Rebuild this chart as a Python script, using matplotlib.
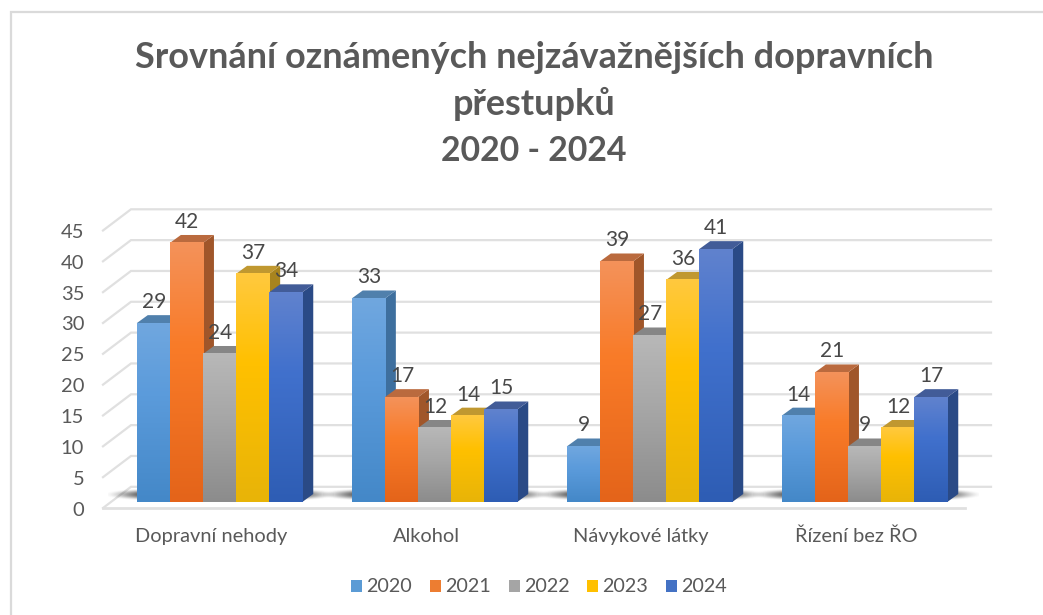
import numpy as np
import matplotlib
matplotlib.use("Agg")
import matplotlib.pyplot as plt
from matplotlib.colors import LinearSegmentedColormap
from matplotlib.lines import Line2D
from matplotlib.patches import Polygon, Rectangle
from matplotlib.transforms import Affine2D

categories = ["Dopravní nehody", "Alkohol", "Návykové látky", "Řízení bez ŘO"]
years = ["2020", "2021", "2022", "2023", "2024"]
values_2020 = [29, 33, 9, 14]
values_2021 = [42, 17, 39, 21]
values_2022 = [24, 12, 27, 9]
values_2023 = [37, 14, 36, 12]
values_2024 = [34, 15, 41, 17]
series = [values_2020, values_2021, values_2022, values_2023, values_2024]
y_ticks = [0, 5, 10, 15, 20, 25, 30, 35, 40, 45]

# top, middle, bottom of the front face
grads = [
    ["#70A7DF", "#5B9BDB", "#4488C8"],
    ["#F4925A", "#F97B28", "#E4641A"],
    ["#B8B8B8", "#A8A8A8", "#8C8C8C"],
    ["#FFC93E", "#FFC000", "#E8B408"],
    ["#6082CE", "#4070CC", "#2E5DB4"],
]
side_cols = ["#3E6F9E", "#A0562A", "#6E6E6E", "#A8841E", "#2A4A86"]
top_cols = ["#5080AC", "#BA6A3E", "#868686", "#C09830", "#425C98"]
legend_cols = ["#5B9BD5", "#ED7D31", "#A5A5A5", "#FFC000", "#4472C4"]

W, H = 1043, 615
PX_X = 215.0   # pixels per category
PX_Y = 6.167   # pixels per unit
bar_w = 33.1 / PX_X
depth_x = 11 / PX_X
depth_y = 8 / PX_Y
grid_col = "#E0E0E0"
text_col = "#595959"

plt.rcParams["font.family"] = ["Lato", "DejaVu Sans"]

fig = plt.figure(figsize=(W / 100, H / 100), dpi=100)
# plane of the bar fronts: y=0 at pixel row 502, x centres at 219.5 + 215*i
ax = fig.add_axes([112 / W, (H - 502) / H, 860 / W, 45 * PX_Y / H])
ax.set_xlim(-0.5, 3.5)
ax.set_ylim(0, 45)
for s in ax.spines.values():
    s.set_visible(False)
ax.patch.set_alpha(0)
ax.tick_params(length=0)

# chart frame, only the top and left edges are in the crop
fig.add_artist(Line2D([10.5 / W, 10.5 / W, 1], [0, 1 - 12 / H, 1 - 12 / H], transform=fig.transFigure,
                      color="#DADADA", lw=1.6, solid_joinstyle="miter"))

# walls
fx, fy = -9 / PX_X, -6 / PX_Y
bx, by = 19 / PX_X, 15.2 / PX_Y
x0, x1 = -0.5, 3.5
for t in y_ticks:
    ax.plot([x0 + fx, x0 + bx, x1 + bx], [t + fy, t + by, t + by], color=grid_col, lw=1.6,
            clip_on=False, zorder=1, solid_joinstyle="miter")
ax.plot([x0 + fx, x1 + fx + 2 / PX_X], [fy, fy], color=grid_col, lw=2, clip_on=False, zorder=1)

# shadows on the floor
yy, xx = np.mgrid[-1:1:40j, -1:1:200j]
alpha = np.clip(1.2 - (np.abs(xx) ** 4 + np.abs(yy) ** 2), 0, 1) ** 2
shadow = np.zeros(alpha.shape + (4,))
shadow[..., :3] = 0.15
shadow[..., 3] = alpha * 0.85
for i in range(4):
    ax.imshow(shadow, extent=[i - 112 / PX_X, i + 114 / PX_X, 0.1, 2.2], aspect="auto", zorder=2,
              clip_on=False, interpolation="bilinear")

offsets = (np.arange(5) - 2) * bar_w
z = 3.0
for k, vals in enumerate(series):
    cmap = LinearSegmentedColormap.from_list("g" + str(k), [grads[k][2], grads[k][1], grads[k][0]])
    # gradient: saturated part sits a bit above the middle
    g = np.concatenate([np.linspace(0, 0.5, 60), np.linspace(0.5, 1, 40)]).reshape(-1, 1)
    bars = ax.bar(np.arange(4) + offsets[k], vals, bar_w, color=grads[k][1], zorder=z)
    for bar, v in zip(bars, vals):
        left = bar.get_x()
        right = left + bar.get_width()
        # the faces of a later bar must cover this one, so z goes up bar by bar
        ax.add_patch(Polygon([(right, 0), (right + depth_x, depth_y), (right + depth_x, v + depth_y), (right, v)],
                             closed=True, fc=side_cols[k], ec="none", zorder=z, clip_on=False))
        ax.add_patch(Polygon([(left, v), (left + depth_x, v + depth_y), (right + depth_x, v + depth_y), (right, v)],
                             closed=True, fc=top_cols[k], ec="none", zorder=z, clip_on=False))
        ax.imshow(g, cmap=cmap, extent=[left, right, 0, v], origin="lower", aspect="auto",
                  vmin=0, vmax=1, zorder=z + 0.1)
    z += 1

# value labels on top
for k, vals in enumerate(series):
    for i, v in enumerate(vals):
        ax.text(i + offsets[k] + 0.5 / PX_X, v + depth_y + 0.5, str(v), ha="center", va="bottom", fontsize=15,
                color="#484848", zorder=20, clip_on=False)

ax.set_xlim(-0.5, 3.5)
ax.set_ylim(0, 45)

ax.set_yticks(y_ticks)
ax.set_yticklabels([str(t) for t in y_ticks], fontsize=14.5, color=text_col)
ax.tick_params(axis="y", pad=20)
shift = Affine2D().translate(0, -6.5)
for lab in ax.get_yticklabels():
    lab.set_transform(lab.get_transform() + shift)
ax.set_xticks(np.arange(4) - 8.5 / PX_X)
ax.set_xticklabels(categories, fontsize=14.4, color=text_col)
ax.tick_params(axis="x", pad=18.5)

title_size = 25.9
fig.text(534 / W, 1 - 58 / H, "Srovnání oznámených nejzávažnějších dopravních", ha="center", va="center",
         fontsize=title_size, fontweight="bold", color=text_col)
fig.text(534 / W, 1 - 104 / H, "přestupků", ha="center", va="center",
         fontsize=title_size, fontweight="bold", color=text_col)
fig.text(534 / W, 1 - 151 / H, "2020 - 2024", ha="center", va="center",
         fontsize=24.4, fontweight="bold", color=text_col)

handles = [Rectangle((0, 0), 1, 1, fc=c, ec="none") for c in legend_cols]
fig.legend(handles, years, loc="center", bbox_to_anchor=(539 / W, 1 - 587 / H), ncol=5, frameon=False,
           fontsize=14.2, labelcolor=text_col, handlelength=0.56, handleheight=0.56, handletextpad=0.2,
           columnspacing=0.92)

fig.savefig("out.png", dpi=100, facecolor="white")
